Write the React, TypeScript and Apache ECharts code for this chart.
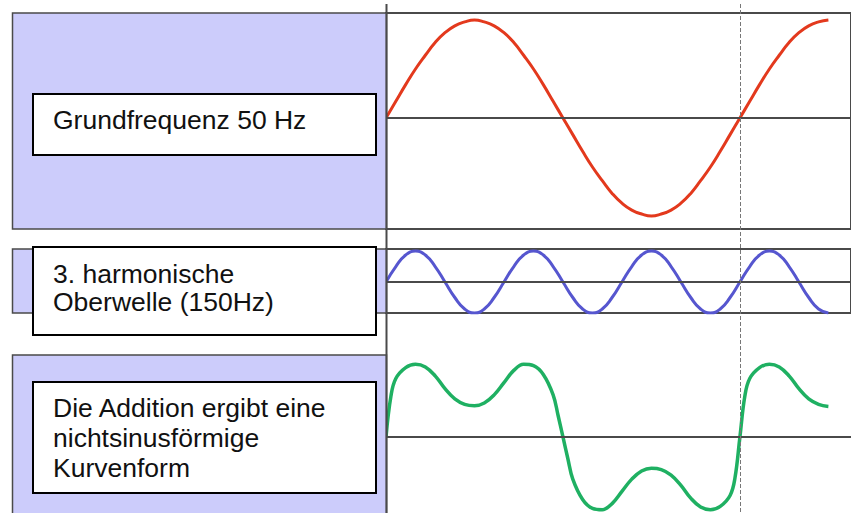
import React, { useEffect, useRef } from "react";
import * as echarts from "echarts";

// phase angle in degrees (x positions of samples)
const angles = [0, 10, 20, 30, 40, 50, 60, 70, 80, 90, 100, 110, 120, 130, 140, 150, 160, 170, 180, 190, 200, 210, 220, 230, 240, 250, 260, 270, 280, 290, 300, 310, 320, 330, 340, 350, 360, 370, 380, 390, 400, 410, 420, 430, 440, 450];

// 50 Hz fundamental (red)
const fundamental = [0, 0.17, 0.34, 0.5, 0.64, 0.77, 0.87, 0.94, 0.98, 1, 0.98, 0.94, 0.87, 0.77, 0.64, 0.5, 0.34, 0.17, 0, -0.17, -0.34, -0.5, -0.64, -0.77, -0.87, -0.94, -0.98, -1, -0.98, -0.94, -0.87, -0.77, -0.64, -0.5, -0.34, -0.17, 0, 0.17, 0.34, 0.5, 0.64, 0.77, 0.87, 0.94, 0.98, 1];

// 150 Hz third harmonic (blue)
const harmonic3 = [0, 0.5, 0.87, 1, 0.87, 0.5, 0, -0.5, -0.87, -1, -0.87, -0.5, 0, 0.5, 0.87, 1, 0.87, 0.5, 0, -0.5, -0.87, -1, -0.87, -0.5, 0, 0.5, 0.87, 1, 0.87, 0.5, 0, -0.5, -0.87, -1, -0.87, -0.5, 0, 0.5, 0.87, 1, 0.87, 0.5, 0, -0.5, -0.87, -1];

// resulting non-sinusoidal wave (green)
const combinedAngles = [0, 5, 10, 20, 30, 40, 50, 60, 70, 80, 90, 100, 110, 120, 130, 140, 150, 160, 170, 175, 180, 185, 190, 200, 210, 220, 230, 240, 250, 260, 270, 280, 290, 300, 310, 320, 330, 340, 350, 355, 360, 365, 370, 380, 390, 400, 410, 420, 430, 440, 450];
const combined = [0, 0.6, 0.86, 1.02, 1.07, 1.03, 0.9, 0.71, 0.56, 0.48, 0.46, 0.5, 0.62, 0.8, 0.98, 1.07, 1.05, 0.92, 0.62, 0.32, 0, -0.32, -0.62, -0.92, -1.05, -1.07, -0.98, -0.8, -0.62, -0.5, -0.46, -0.48, -0.56, -0.71, -0.9, -1.03, -1.07, -1.02, -0.86, -0.6, 0, 0.6, 0.86, 1.02, 1.07, 1.03, 0.9, 0.71, 0.56, 0.48, 0.45];

const labels1 = ["Grundfrequenz 50 Hz"];
const labels2 = ["3. harmonische", "Oberwelle (150Hz)"];
const labels3 = ["Die Addition ergibt eine", "nichtsinusförmige", "Kurvenform"];

const periodMark = 360;
const greenTop = 1.206;
const greenBottom = -1.118;

const FONT = "'Liberation Sans', Arial, sans-serif";
const LINE = "#4a4a4a";
const PURPLE = "#ccccfb";

export default function App() {
  const ref = useRef<HTMLDivElement>(null);
  useEffect(() => {
    if (!ref.current) return;
    const chart = echarts.init(ref.current, null, { renderer: "svg" });

    const pair = (xs: number[], ys: number[]) => xs.map((a, i) => [a, ys[i]]);
    const hLines = (values: number[]) => ({
      silent: true,
      symbol: ["none", "none"],
      label: { show: false },
      lineStyle: { color: LINE, width: 2, type: "solid" },
      data: values.map((v) => ({ yAxis: v })),
    });
    const xAx = (i: number) => ({
      type: "value",
      gridIndex: i,
      min: 0,
      max: 473,
      show: false,
      splitLine: { show: false },
    });
    const yAx = (i: number, min: number, max: number) => ({
      type: "value",
      gridIndex: i,
      min,
      max,
      show: false,
      splitLine: { show: false },
    });
    const grid = (top: number, height: number, border: boolean) => ({
      left: 386,
      right: -3,
      top,
      height,
      show: border,
      borderColor: LINE,
      borderWidth: 2,
      backgroundColor: "transparent",
    });

    const textLines = (lines: string[], baselines: number[]) =>
      lines.map((t, i) => ({
        type: "text",
        x: 53,
        y: baselines[i] - 9.2,
        z: 20,
        style: {
          text: t,
          fontSize: 26.5,
          fontFamily: FONT,
          fill: "#111",
          verticalAlign: "middle",
          align: "left",
        },
      }));

    const panels = [
      { type: "rect", z: 5, shape: { x: 12.5, y: 13, width: 374, height: 216 }, style: { fill: PURPLE, stroke: LINE, lineWidth: 1.5 } },
      { type: "rect", z: 5, shape: { x: 12.5, y: 249, width: 374, height: 64 }, style: { fill: PURPLE, stroke: LINE, lineWidth: 1.5 } },
      { type: "rect", z: 5, shape: { x: 12.5, y: 355, width: 374, height: 200 }, style: { fill: PURPLE, stroke: LINE, lineWidth: 1.5 } },
      { type: "rect", z: 10, shape: { x: 33, y: 94, width: 343, height: 61 }, style: { fill: "#fff", stroke: "#000", lineWidth: 2 } },
      { type: "rect", z: 10, shape: { x: 33, y: 247, width: 343, height: 88 }, style: { fill: "#fff", stroke: "#000", lineWidth: 2 } },
      { type: "rect", z: 10, shape: { x: 33, y: 382, width: 343, height: 111 }, style: { fill: "#fff", stroke: "#000", lineWidth: 2 } },
      { type: "line", z: 15, shape: { x1: 386.5, y1: 4, x2: 386.5, y2: 513 }, style: { stroke: LINE, lineWidth: 2 } },
      ...textLines(labels1, [129.3]),
      ...textLines(labels2, [283.5, 311.5]),
      ...textLines(labels3, [416.7, 447.5, 476.7]),
    ];

    const option: any = {
      animation: false,
      backgroundColor: "#fff",
      grid: [grid(13, 216, true), grid(249, 64, true), grid(355, 158, false)],
      xAxis: [xAx(0), xAx(1), xAx(2)],
      yAxis: [yAx(0, -1.133, 1.071), yAx(1, -1.0, 1.065), yAx(2, greenBottom, greenTop)],
      series: [
        {
          type: "line",
          xAxisIndex: 0,
          yAxisIndex: 0,
          data: pair(angles, fundamental),
          smooth: true,
          showSymbol: false,
          lineStyle: { color: "#e3391d", width: 3 },
          markLine: hLines([0]),
        },
        {
          type: "line",
          xAxisIndex: 1,
          yAxisIndex: 1,
          data: pair(angles, harmonic3),
          smooth: true,
          showSymbol: false,
          lineStyle: { color: "#5656cf", width: 3 },
          markLine: hLines([0]),
        },
        {
          type: "line",
          xAxisIndex: 2,
          yAxisIndex: 2,
          data: pair(combinedAngles, combined),
          smooth: 0.4,
          showSymbol: false,
          clip: false,
          lineStyle: { color: "#1fb062", width: 3.5 },
          markLine: hLines([0, greenTop]),
        },
      ],
      graphic: panels,
    };
    chart.setOption(option);

    const px = chart.convertToPixel({ xAxisIndex: 0 }, periodMark) as number;
    chart.setOption({
      graphic: [
        ...panels,
        {
          type: "line",
          z: 15,
          shape: { x1: Math.round(px) + 0.5, y1: 4, x2: Math.round(px) + 0.5, y2: 513 },
          style: { stroke: "#777", lineWidth: 1, lineDash: [4, 2] },
        },
      ],
    });

    return () => chart.dispose();
  }, []);

  return (
    <div
      ref={ref}
      style={{ position: "fixed", left: 0, top: 0, width: 851, height: 513 }}
    />
  );
}
